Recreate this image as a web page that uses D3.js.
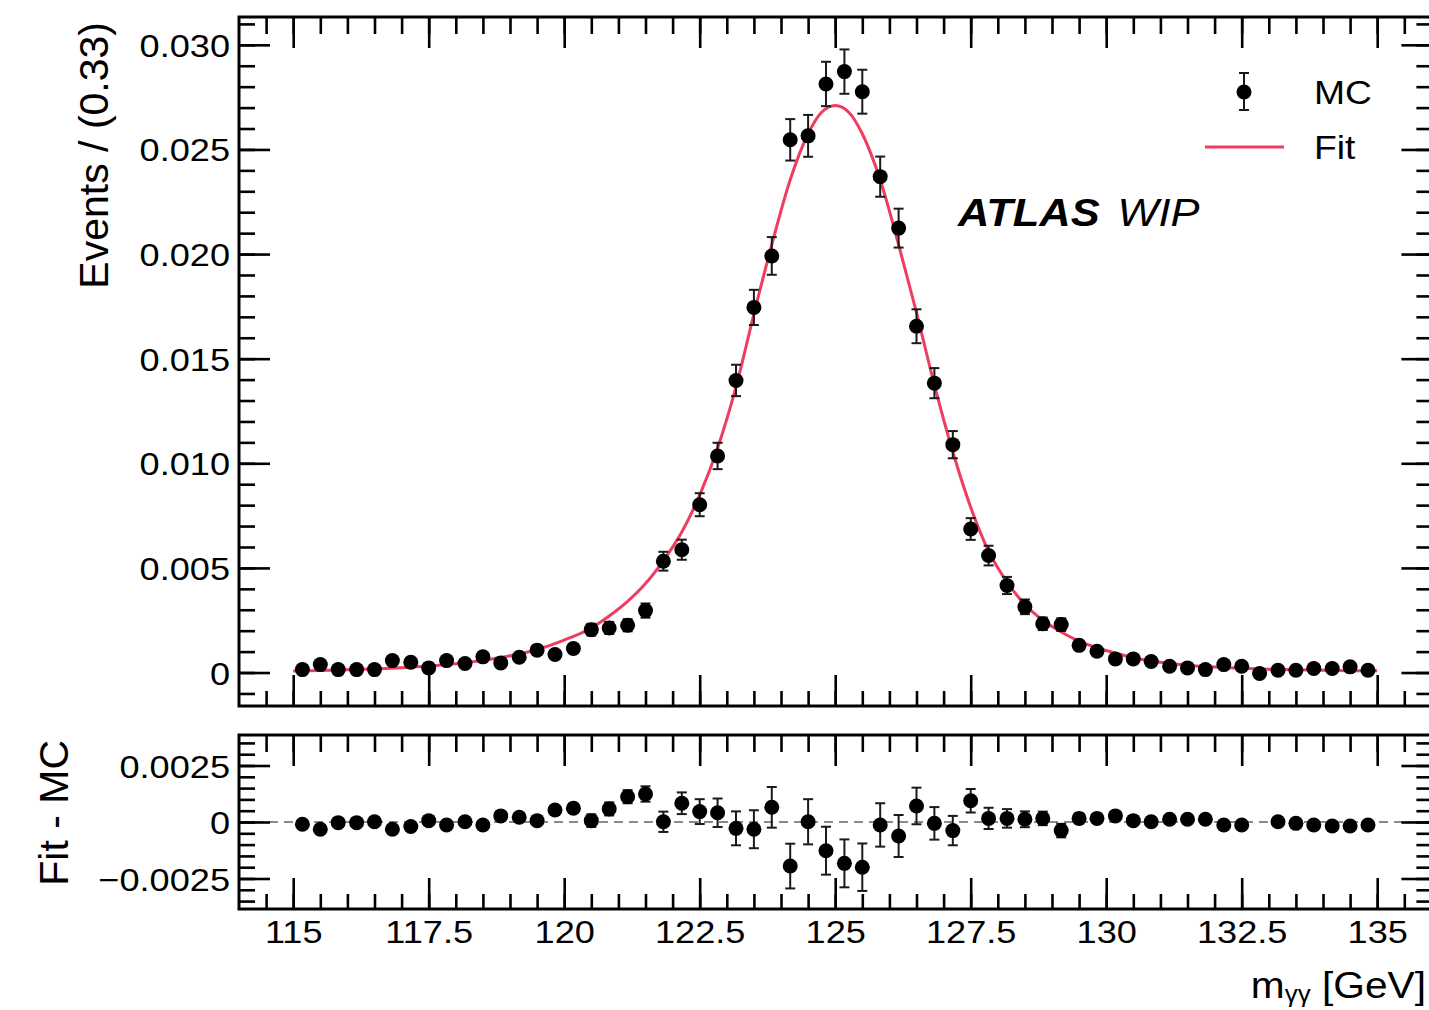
<!DOCTYPE html>
<html>
<head>
<meta charset="utf-8">
<script src="https://cdn.jsdelivr.net/npm/d3@7"></script>
<style>
  html, body { margin: 0; padding: 0; background: #fff; }
  svg { display: block; }
</style>
</head>
<body>
<svg id="chart" width="1429" height="1010"></svg>
<script>
// ---- data -------------------------------------------------------------
// diphoton invariant mass bins (centres, GeV), bin width 1/3 GeV
const binCenters = [
  115.17,115.5,115.83,116.17,116.5,116.83,117.17,117.5,117.83,118.17,
  118.5,118.83,119.17,119.5,119.83,120.17,120.5,120.83,121.17,121.5,
  121.83,122.17,122.5,122.83,123.17,123.5,123.83,124.17,124.5,124.83,
  125.17,125.5,125.83,126.17,126.5,126.83,127.17,127.5,127.83,128.17,
  128.5,128.83,129.17,129.5,129.83,130.17,130.5,130.83,131.17,131.5,
  131.83,132.17,132.5,132.83,133.17,133.5,133.83,134.17,134.5,134.83
];

// normalised MC yield per bin
const mcValues = [
  0.00014,0.00038,0.00014,0.00014,0.00014,0.00057,0.00049,0.00022,0.00057,0.00043,
  0.00075,0.00046,0.00073,0.00107,0.00086,0.00115,0.00205,0.00213,0.00226,0.00296,
  0.00532,0.00587,0.00802,0.01035,0.01396,0.01745,0.01991,0.02546,0.02565,0.02813,
  0.02872,0.02776,0.02370,0.02124,0.01655,0.01383,0.01089,0.00686,0.00559,0.00416,
  0.00314,0.00233,0.00229,0.00130,0.00102,0.00065,0.00065,0.00053,0.00030,0.00022,
  0.00014,0.00038,0.00030,-0.00005,0.00011,0.00011,0.00019,0.00019,0.00027,0.00011
];

// statistical uncertainty of each MC bin
const mcErrors = [
  0.00007,0.00012,0.00007,0.00007,0.00007,0.00015,0.00014,0.00009,0.00015,0.00013,
  0.00017,0.00013,0.00017,0.00020,0.00018,0.00021,0.00028,0.00029,0.00029,0.00034,
  0.00045,0.00048,0.00055,0.00063,0.00075,0.00084,0.00090,0.00099,0.00100,0.00106,
  0.00106,0.00105,0.00096,0.00093,0.00081,0.00072,0.00065,0.00052,0.00047,0.00041,
  0.00035,0.00030,0.00030,0.00022,0.00020,0.00016,0.00016,0.00014,0.00011,0.00009,
  0.00007,0.00012,0.00011,0.00004,0.00006,0.00006,0.00009,0.00009,0.00010,0.00006
];

// fit minus MC per bin (no entry for the empty bin)
const residuals = [
  -0.00010,-0.00032,-0.00003,-0.00003,0.00001,-0.00032,-0.00020,0.00006,-0.00013,0.00001,
  -0.00013,0.00027,0.00021,0.00006,0.00053,0.00061,0.00006,0.00058,0.00112,0.00124,
  0.00001,0.00083,0.00046,0.00041,-0.00028,-0.00032,0.00065,-0.00195,0.00001,-0.00127,
  -0.00183,-0.00200,-0.00013,-0.00062,0.00071,-0.00006,-0.00038,0.00094,0.00016,0.00016,
  0.00012,0.00016,-0.00038,0.00016,0.00016,0.00027,0.00006,0.00001,0.00012,0.00012,
  0.00012,-0.00013,-0.00013,null,0.00001,-0.00006,-0.00013,-0.00018,-0.00018,-0.00013
];

// fitted signal shape, sampled along the mass axis
const fitMass = [
  115.0,115.5,116.0,116.5,117.0,117.5,118.0,118.5,119.0,119.5,120.0,120.5,120.83,
  121.17,121.5,121.83,122.17,122.5,122.83,123.17,123.5,123.83,124.17,124.5,124.75,
  125.0,125.25,125.5,125.83,126.17,126.5,126.83,127.17,127.5,127.83,128.17,128.5,
  128.83,129.17,129.5,130.0,130.5,131.0,131.5,132.0,132.5,133.0,133.5,134.0,134.5,135.0
];
const fitValues = [
  0.00007,0.00010,0.00013,0.00017,0.00023,0.00031,0.00042,0.00058,0.00080,0.00110,0.00155,0.00213,0.00270,
  0.00340,0.00425,0.00535,0.00672,0.00848,0.01072,0.01365,0.01713,0.02045,0.02355,0.02575,0.02678,
  0.02710,0.02678,0.02575,0.02355,0.02045,0.01720,0.01375,0.01055,0.00790,0.00580,0.00432,0.00325,
  0.00250,0.00194,0.00150,0.00105,0.00071,0.00049,0.00035,0.00026,0.00020,0.00016,0.00013,0.00011,0.00009,0.00008
];

// axis tick labels
const massTicks = [115, 117.5, 120, 122.5, 125, 127.5, 130, 132.5, 135];
const massTickLabels = ["115", "117.5", "120", "122.5", "125", "127.5", "130", "132.5", "135"];
const yieldTicks = [0, 0.005, 0.010, 0.015, 0.020, 0.025, 0.030];
const yieldTickLabels = ["0", "0.005", "0.010", "0.015", "0.020", "0.025", "0.030"];
const residTicks = [-0.0025, 0, 0.0025];
const residTickLabels = ["\u22120.0025", "0", "0.0025"];

// ---- layout -------------------------------------------------------------
const FONT = "'Liberation Sans', Arial, Helvetica, sans-serif";
const SX = 1.13;                 // horizontal glyph stretch
const X0 = 239, X1 = 1431.4;
const mainTop = 17, mainBot = 706;
const resTop = 735, resBot = 909;
const MAJ = 30, MIN = 15;

const svg = d3.select("#chart");

const x = d3.scaleLinear().domain([114, 136]).range([X0, X1]);
const yMain = d3.scaleLinear().domain([-0.0016, 0.03133]).range([mainBot, mainTop]);
const yRes = d3.scaleLinear().domain([-0.00385, 0.00385]).range([resBot, resTop]);

const xMinor = d3.range(114.5, 136, 0.5);
const yMainMinor = d3.range(-0.001, 0.0315, 0.001);
const yResMinor = d3.range(-0.0035, 0.0036, 0.0005);

function styleAxis(g) {
  g.select(".domain").remove();
  g.selectAll(".tick line").attr("stroke", "#000").attr("stroke-width", 2.6);
  g.selectAll("text").remove();
}

function drawTicks(yScale, top, bot, majY, minY) {
  // bottom / top mass ticks
  svg.append("g").attr("transform", `translate(0,${bot})`)
    .call(d3.axisBottom(x).tickValues(xMinor).tickSize(-MIN)).call(styleAxis);
  svg.append("g").attr("transform", `translate(0,${bot})`)
    .call(d3.axisBottom(x).tickValues(massTicks).tickSize(-MAJ - 1)).call(styleAxis);
  svg.append("g").attr("transform", `translate(0,${top})`)
    .call(d3.axisTop(x).tickValues(xMinor).tickSize(-MIN - 2)).call(styleAxis);
  svg.append("g").attr("transform", `translate(0,${top})`)
    .call(d3.axisTop(x).tickValues(massTicks).tickSize(-MAJ - 1)).call(styleAxis);
  // left / right ticks
  svg.append("g").attr("transform", `translate(${X0},0)`)
    .call(d3.axisLeft(yScale).tickValues(minY).tickSize(-MIN - 1)).call(styleAxis);
  svg.append("g").attr("transform", `translate(${X0},0)`)
    .call(d3.axisLeft(yScale).tickValues(majY).tickSize(-MAJ - 1)).call(styleAxis);
  svg.append("g").attr("transform", `translate(${X1},0)`)
    .call(d3.axisRight(yScale).tickValues(minY).tickSize(-MIN)).call(styleAxis);
  svg.append("g").attr("transform", `translate(${X1},0)`)
    .call(d3.axisRight(yScale).tickValues(majY).tickSize(-MAJ)).call(styleAxis);
}

function yLabels(yScale, values, labels) {
  const g = svg.append("g").attr("transform", `translate(${X0},0)`)
    .call(d3.axisLeft(yScale).tickValues(values).tickSize(0).tickPadding(9)
      .tickFormat((d, i) => labels[i]));
  g.select(".domain").remove();
  g.selectAll(".tick line").remove();
  g.selectAll("text")
    .attr("font-family", FONT).attr("font-size", 32).attr("fill", "#000")
    .attr("dy", "0.36em")
    .attr("transform", `scale(${SX},1)`)
    .attr("x", -9 / SX);
}

// ---- main panel -----------------------------------------------------------
svg.append("defs").append("clipPath").attr("id", "mainClip")
  .append("rect").attr("x", X0).attr("y", mainTop)
  .attr("width", X1 - X0).attr("height", mainBot - mainTop);

const fitLine = d3.line()
  .x((d, i) => x(fitMass[i]))
  .y(d => yMain(d))
  .curve(d3.curveMonotoneX);

svg.append("path")
  .attr("clip-path", "url(#mainClip)")
  .attr("d", fitLine(fitValues))
  .attr("fill", "none").attr("stroke", "#ee3d5f").attr("stroke-width", 3);

function drawPoints(yScale, values, errors) {
  const pts = binCenters.map((m, i) => ({ m, v: values[i], e: errors[i] }))
    .filter(d => d.v !== null);
  const bars = svg.append("g").attr("stroke", "#1a1a1a").attr("stroke-width", 2);
  pts.forEach(d => {
    const cx = x(d.m), y1 = yScale(d.v + d.e), y2 = yScale(d.v - d.e);
    bars.append("line").attr("x1", cx).attr("x2", cx).attr("y1", y1).attr("y2", y2);
    bars.append("line").attr("x1", cx - 5).attr("x2", cx + 5).attr("y1", y1).attr("y2", y1);
    bars.append("line").attr("x1", cx - 5).attr("x2", cx + 5).attr("y1", y2).attr("y2", y2);
  });
  svg.append("g").selectAll("circle").data(pts).join("circle")
    .attr("cx", d => x(d.m)).attr("cy", d => yScale(d.v))
    .attr("r", 7.5).attr("fill", "#000");
}

drawPoints(yMain, mcValues, mcErrors);

drawTicks(yMain, mainTop, mainBot, yieldTicks, yMainMinor);
yLabels(yMain, yieldTicks, yieldTickLabels);

svg.append("rect").attr("x", X0).attr("y", mainTop)
  .attr("width", X1 - X0).attr("height", mainBot - mainTop)
  .attr("fill", "none").attr("stroke", "#000").attr("stroke-width", 3);

// y title
svg.append("text")
  .attr("transform", "translate(108,22) rotate(-90)")
  .attr("text-anchor", "end")
  .attr("font-family", FONT).attr("font-size", 41)
  .text("Events / (0.33)");

// legend
const leg = svg.append("g");
leg.append("line").attr("x1", 1244).attr("x2", 1244).attr("y1", 73).attr("y2", 110)
  .attr("stroke", "#1a1a1a").attr("stroke-width", 2);
leg.append("line").attr("x1", 1239).attr("x2", 1249).attr("y1", 73).attr("y2", 73)
  .attr("stroke", "#1a1a1a").attr("stroke-width", 2);
leg.append("line").attr("x1", 1239).attr("x2", 1249).attr("y1", 110).attr("y2", 110)
  .attr("stroke", "#1a1a1a").attr("stroke-width", 2);
leg.append("circle").attr("cx", 1244).attr("cy", 92).attr("r", 7.5).attr("fill", "#000");
leg.append("line").attr("x1", 1205).attr("x2", 1284).attr("y1", 147).attr("y2", 147)
  .attr("stroke", "#ee3d5f").attr("stroke-width", 3);
leg.append("text").attr("transform", `translate(1314,104) scale(${SX},1)`)
  .attr("font-family", FONT).attr("font-size", 33).text("MC");
leg.append("text").attr("transform", `translate(1314,159) scale(${SX},1)`)
  .attr("font-family", FONT).attr("font-size", 33).text("Fit");

// experiment label
const atl = svg.append("text").attr("transform", `translate(958,226) scale(${SX},1)`)
  .attr("font-family", FONT).attr("font-size", 38.5).attr("font-style", "italic");
atl.append("tspan").attr("font-weight", "bold").text("ATLAS");
atl.append("tspan").attr("font-weight", "normal").attr("dx", 5).text(" WIP");

// ---- residual panel ----------------------------------------------------------
svg.append("line")
  .attr("x1", x(114)).attr("x2", x(136)).attr("y1", yRes(0)).attr("y2", yRes(0))
  .attr("stroke", "#8a8a8a").attr("stroke-width", 2).attr("stroke-dasharray", "9,6");

drawPoints(yRes, residuals, mcErrors);

drawTicks(yRes, resTop, resBot, residTicks, yResMinor);
yLabels(yRes, residTicks, residTickLabels);

svg.append("rect").attr("x", X0).attr("y", resTop)
  .attr("width", X1 - X0).attr("height", resBot - resTop)
  .attr("fill", "none").attr("stroke", "#000").attr("stroke-width", 3);

// mass tick labels
const xl = svg.append("g").attr("transform", `translate(0,${resBot})`)
  .call(d3.axisBottom(x).tickValues(massTicks).tickSize(0).tickPadding(0)
    .tickFormat((d, i) => massTickLabels[i]));
xl.select(".domain").remove();
xl.selectAll(".tick line").remove();
xl.selectAll("text")
  .attr("font-family", FONT).attr("font-size", 32).attr("fill", "#000")
  .attr("y", 34).attr("dy", 0)
  .attr("transform", `scale(${SX},1)`);

svg.append("text")
  .attr("transform", "translate(68,740) rotate(-90)")
  .attr("text-anchor", "end")
  .attr("font-family", FONT).attr("font-size", 41)
  .text("Fit - MC");

// x title
const xt = svg.append("text")
  .attr("transform", `translate(1426,998) scale(${SX},1)`)
  .attr("text-anchor", "end")
  .attr("font-family", FONT).attr("font-size", 36);
xt.append("tspan").text("m");
xt.append("tspan").attr("font-size", 23).attr("dy", 4).text("\u03b3\u03b3");
xt.append("tspan").attr("dy", -4).text(" [GeV]");
</script>
</body>
</html>
